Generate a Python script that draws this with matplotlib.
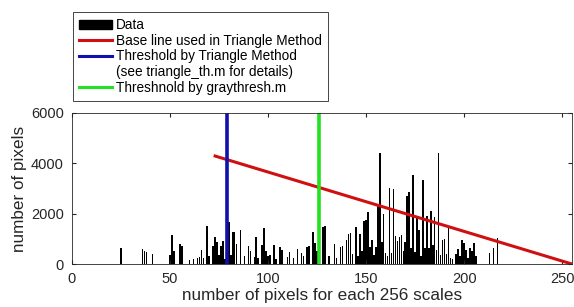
import numpy as np
import matplotlib.pyplot as plt
from matplotlib.lines import Line2D
from matplotlib.patches import Patch

plt.rcParams['font.family'] = ['Liberation Sans', 'DejaVu Sans']

# histogram bins that are non-zero (gray level) and their pixel counts
bins = [25, 36, 37, 38, 41, 50, 51, 52, 55, 56, 60, 62, 64, 65, 66, 67, 69, 70,
        72, 73, 74, 75, 76, 77, 78, 80, 81, 82, 83, 84, 86, 88, 90, 91, 93, 94,
        95, 97, 98, 99, 100, 101, 103, 104, 106, 107, 110, 111, 113, 115, 117,
        118, 120, 121, 123, 124, 125, 128, 129, 131, 134, 135, 137, 138, 140,
        141, 142, 143, 145, 146, 147, 148, 149, 150, 151, 152, 153, 154, 155,
        156, 157, 158, 159, 160, 161, 162, 163, 164, 165, 166, 167, 168, 169,
        170, 171, 172, 173, 174, 175, 176, 177, 178, 179, 180, 181, 182, 183,
        184, 185, 186, 187, 188, 189, 190, 191, 192, 193, 194, 196, 197, 198,
        199, 200, 201, 202, 203, 204, 205, 206, 213, 215, 217]
counts = [620, 600, 520, 480, 400, 360, 1150, 520, 790, 720, 150, 190, 250, 290,
          570, 250, 1500, 300, 720, 1090, 890, 360, 730, 920, 200, 1650, 360,
          1260, 1260, 790, 1360, 300, 730, 500, 280, 1090, 250, 770, 1430, 500,
          300, 350, 760, 200, 690, 560, 280, 490, 250, 610, 430, 300, 690, 720,
          1290, 850, 500, 1490, 1530, 300, 810, 250, 680, 700, 950, 1210, 1250,
          400, 1460, 300, 1210, 500, 1700, 1760, 2050, 690, 960, 350, 690, 2290,
          4400, 890, 2000, 425, 300, 3020, 450, 2990, 1100, 920, 1090, 1160, 500,
          890, 2690, 2860, 625, 3550, 490, 1820, 1360, 300, 3330, 625, 1920, 625,
          2110, 760, 1860, 560, 4400, 350, 960, 1000, 400, 1420, 250, 200, 410,
          600, 300, 950, 820, 560, 250, 650, 520, 820, 310, 450, 630, 1050]

hist = np.zeros(256)
hist[bins] = counts

base_x = [73, 255]
base_y = [4290, 0]
tri_th = 79
gray_th = 126

fig = plt.figure(figsize=(5.74, 3.07), dpi=100)
ax = fig.add_axes([0.1254, 0.140, 0.871, 0.492])

ax.bar(np.arange(256), hist, width=0.8, color='black', label='Data')
ax.plot(base_x, base_y, color='#d01010', lw=2.2)
ax.axvline(tri_th, color='#1010b0', lw=2.6)
ax.axvline(gray_th, color='#22e022', lw=2.6)

ax.set_xlim(0, 255)
ax.set_ylim(0, 6000)
ax.set_xticks([0, 50, 100, 150, 200, 250])
ax.set_yticks([0, 2000, 4000, 6000])
ax.tick_params(direction='in', top=True, right=True, labelsize=10.5,
               colors='#262626', length=3)
ax.tick_params(axis='x', pad=6)
ax.tick_params(axis='y', pad=6)
for s in ax.spines.values():
    s.set_color('#262626')
    s.set_linewidth(0.6)
ax.set_xlabel('number of pixels for each 256 scales', fontsize=12.3,
              color='#262626', labelpad=1)
ax.set_ylabel('number of pixels', fontsize=12.3, color='#262626', labelpad=3)

handles = [Patch(color='black'),
           Line2D([], [], color='#d01010', lw=2.2),
           Line2D([], [], color='#1010b0', lw=2.2),
           Line2D([], [], color='none'),
           Line2D([], [], color='#22e022', lw=2.2)]
labels = ['Data', 'Base line used in Triangle Method',
          'Threshold by Triangle Method', '(see triangle_th.m for details)',
          'Threshnold by graythresh.m']
leg = fig.legend(handles, labels, loc='upper left',
                 bbox_to_anchor=(0.127, 0.961), bbox_transform=fig.transFigure,
                 borderaxespad=0, fontsize=9.8, fancybox=False, framealpha=1,
                 edgecolor='#262626', handlelength=2.4, handletextpad=0.3,
                 labelspacing=0.12, borderpad=0.45)
leg.get_frame().set_linewidth(0.6)

fig.savefig('out.png', dpi=100)
